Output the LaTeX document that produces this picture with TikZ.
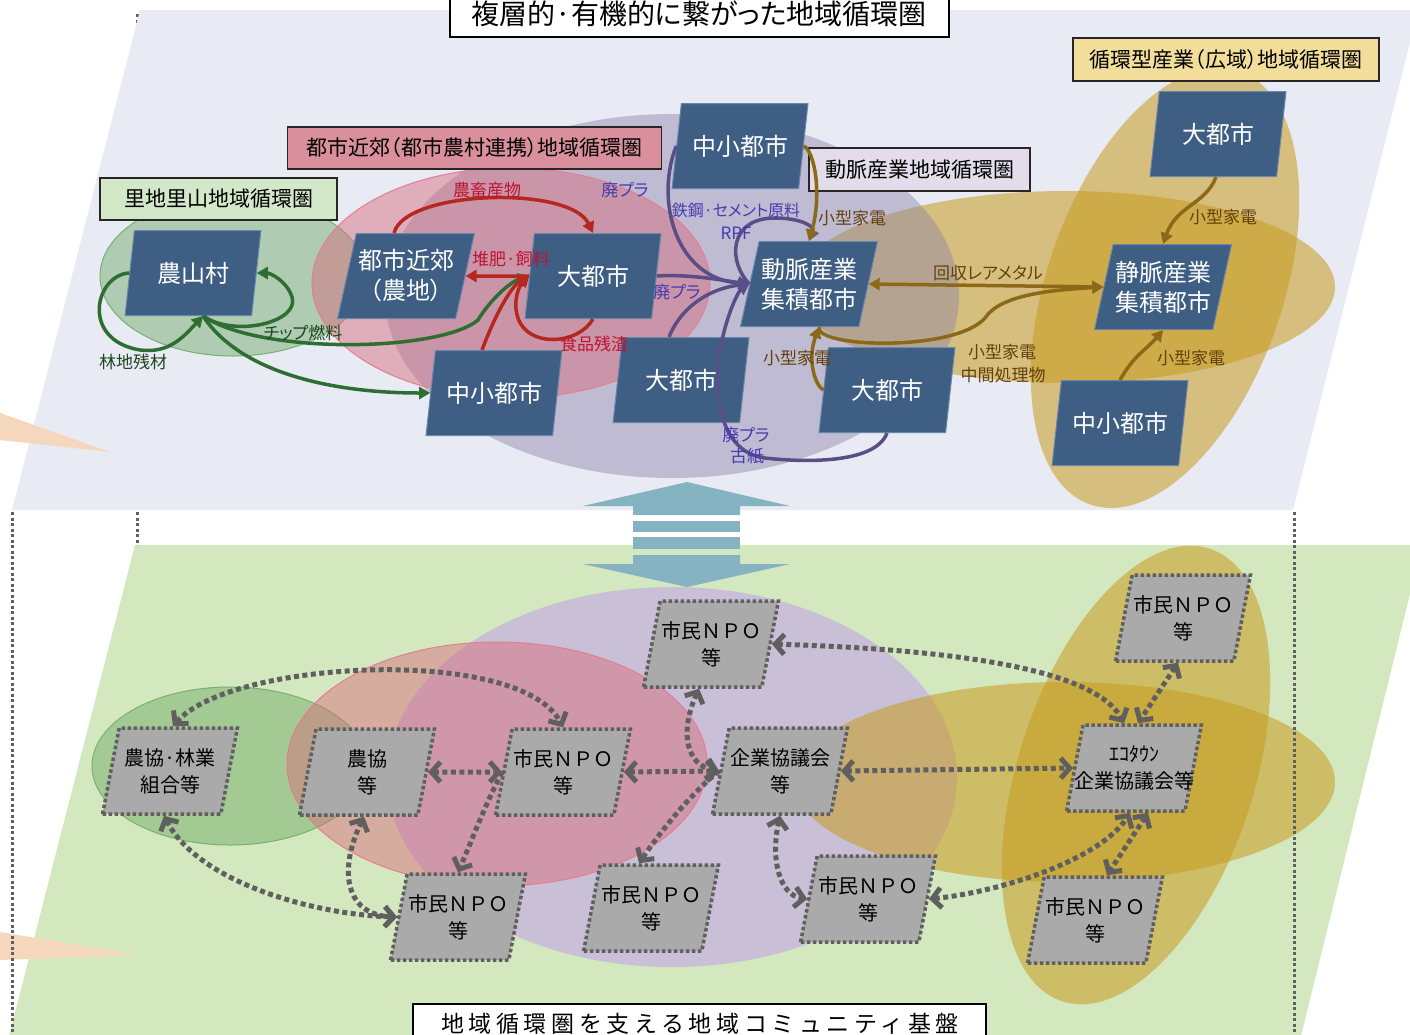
\documentclass[tikz,border=0pt]{standalone}
\usepackage{fontspec}
\newfontfamily\jp{Noto Sans CJK JP}[RawFeature=+palt]
\newfontfamily\jpf{Noto Sans CJK JP}
\newfontfamily\jpls{Noto Sans CJK JP}[LetterSpace=20]
\usetikzlibrary{shapes.geometric,arrows.meta}
\newcommand\ctrline[1]{\makebox[80pt]{#1}}
\definecolor{planeTop}{RGB}{232,235,243}
\definecolor{planeBot}{RGB}{211,232,190}
\definecolor{cityFill}{RGB}{62,94,132}
\definecolor{cityEdge}{RGB}{105,135,170}
\definecolor{grayFill}{RGB}{170,170,170}
\definecolor{dotGray}{RGB}{95,95,95}
\definecolor{eGreen}{RGB}{107,166,98}
\definecolor{eGreenEdge}{RGB}{120,175,115}
\definecolor{ePink}{RGB}{216,108,125}
\definecolor{ePinkEdge}{RGB}{228,125,145}
\definecolor{ePurple}{RGB}{143,130,170}
\definecolor{ePurpleB}{RGB}{201,191,215}
\definecolor{eGold}{RGB}{200,155,30}
\definecolor{aGreen}{RGB}{45,110,50}
\definecolor{aRed}{RGB}{180,40,30}
\definecolor{aPurple}{RGB}{90,78,135}
\definecolor{aBrown}{RGB}{140,105,25}
\definecolor{tGreen}{RGB}{30,70,30}
\definecolor{tRed}{RGB}{190,20,50}
\definecolor{tBlue}{RGB}{70,60,175}
\definecolor{tBrown}{RGB}{100,65,10}
\definecolor{peach}{RGB}{245,215,190}
\definecolor{arrTeal}{RGB}{134,179,193}
\definecolor{boxGold}{RGB}{242,221,155}
\definecolor{boxPink}{RGB}{217,143,156}
\definecolor{boxGreen}{RGB}{210,232,200}
\definecolor{boxLav}{RGB}{227,220,234}
\begin{document}
\begin{tikzpicture}[x=1pt,y=-1pt,
  city/.style={trapezium, trapezium left angle=74, trapezium right angle=106,
    trapezium stretches=true, minimum width=137pt, minimum height=85pt,
    inner sep=0pt, fill=cityFill, draw=cityEdge, line width=1pt, text=white,
    align=center, font=\jp\fontsize{24}{30}\selectfont},
  npo/.style={trapezium, trapezium left angle=74, trapezium right angle=106,
    trapezium stretches=true, minimum width=135pt, minimum height=86pt,
    inner sep=0pt, fill=grayFill, draw=dotGray, line width=3.5pt,
    dash pattern=on 3.5pt off 2.5pt, text=black,
    align=center, font=\jpf\fontsize{20}{27}\selectfont},
  lbox/.style={draw=black!85, line width=1.8pt, inner sep=0pt,
    font=\jp\fontsize{21}{24}\selectfont},
  lab/.style={inner sep=0pt, font=\jp\fontsize{17}{21}\selectfont},
  garr/.style={draw=aGreen, line width=3.5pt, -{Triangle[length=11pt,width=12pt]}},
  rarr/.style={draw=aRed, line width=3.5pt, -{Triangle[length=11pt,width=12pt]}},
  parr/.style={draw=aPurple, line width=3.5pt, -{Triangle[length=11pt,width=12pt]}},
  barr/.style={draw=aBrown, line width=3.5pt, -{Triangle[length=11pt,width=12pt]}},
  barrb/.style={draw=aBrown, line width=3.5pt, {Triangle[length=11pt,width=12pt]}-{Triangle[length=11pt,width=12pt]}},
  darr/.style={draw=dotGray, line width=5pt, dash pattern=on 5pt off 3.5pt,
    {Straight Barb[length=9pt,width=20pt]}-{Straight Barb[length=9pt,width=20pt]}},
  darre/.style={draw=dotGray, line width=5pt, dash pattern=on 5pt off 3.5pt,
    -{Straight Barb[length=9pt,width=20pt]}},
  vdot/.style={draw=dotGray, line width=3pt, dash pattern=on 3pt off 2.5pt}
]
\useasboundingbox (0,0) rectangle (1410,1034);

% planes
\draw[vdot] (137,14) -- (137,26);
\fill[planeTop] (140,10) -- (1418,10) -- (1293,510) -- (12,510) -- cycle;
\fill[planeBot] (135,545) -- (1422,545) -- (1300,1040) -- (8,1040) -- cycle;

% peach wedges
\fill[peach] (0,413) -- (110,452) -- (0,440) -- cycle;
\fill[peach] (0,932) -- (138,955) -- (0,960) -- cycle;

% top ellipses
\fill[eGold, fill opacity=0.55] (1065,287) ellipse [x radius=270pt, y radius=96pt];
\fill[eGold, fill opacity=0.55, rotate around={-19:(1165,288)}] (1165,288) ellipse [x radius=118pt, y radius=229pt];
\fill[ePurple, fill opacity=0.45] (672,296) ellipse [x radius=287pt, y radius=182pt];
\filldraw[fill=eGreen, draw=eGreenEdge, fill opacity=0.45, line width=1pt] (233,276) ellipse [x radius=133pt, y radius=80pt];
\filldraw[fill=ePink, draw=ePinkEdge, fill opacity=0.48, line width=1pt] (511,283) ellipse [x radius=199pt, y radius=115pt];

% bottom ellipses
\fill[ePurpleB] (672,777) ellipse [x radius=285pt, y radius=190pt];
\fill[eGold, fill opacity=0.55] (1065,782) ellipse [x radius=270pt, y radius=100pt];
\fill[eGold, fill opacity=0.55, rotate around={-18:(1136,775)}] (1136,775) ellipse [x radius=118pt, y radius=238pt];
\filldraw[fill=eGreen, draw=eGreenEdge, fill opacity=0.45, line width=1pt] (230,766) ellipse [x radius=138pt, y radius=79pt];
\filldraw[fill=ePink, draw=ePinkEdge, fill opacity=0.48, line width=1pt] (497,764) ellipse [x radius=210pt, y radius=122pt];

% dotted verticals
\draw[vdot] (12,512) -- (12,1034);
\draw[vdot] (137,512) -- (137,545);
\draw[vdot] (1294,512) -- (1294,1034);

% double arrow between layers
\fill[arrTeal] (583,506) -- (687,482) -- (790,506) -- (740,506) -- (740,515) -- (633,515) -- (633,506) -- cycle;
\fill[arrTeal] (633,521) rectangle (740,532);
\fill[arrTeal] (633,537) rectangle (740,549);
\fill[arrTeal] (633,555) -- (740,555) -- (740,564) -- (790,564) -- (687,587) -- (583,564) -- (633,564) -- cycle;

% titles and label boxes
\draw[fill=white, line width=2.5pt] (450,-10) rectangle (949,37);
\node[inner sep=0pt, font=\jp\fontsize{28}{32}\selectfont] (title) at (699,14) {複層的·有機的に繋がった地域循環圏};
\draw[fill=white, line width=2.5pt] (413,1004) rectangle (986,1060);
\node[inner sep=0pt, font=\jpls\fontsize{23}{28}\selectfont] (subtitle) at (700,1024) {地域循環圏を支える地域コミュニティ基盤};
\node[lbox, fill=boxGold, minimum width=306pt, minimum height=43pt] (bx1) at (1226,59.5) {循環型産業（広域）地域循環圏};
\node[lbox, fill=boxPink, minimum width=374pt, minimum height=42pt] (bx2) at (474.5,148) {都市近郊（都市農村連携）地域循環圏};
\node[lbox, fill=boxGreen, minimum width=237pt, minimum height=42pt] (bx3) at (218.5,199) {里地里山地域循環圏};
\node[lbox, fill=boxLav, minimum width=221pt, minimum height=43pt] (bx4) at (919.5,169.5) {動脈産業地域循環圏};

% top nodes
\node[city] (nsm) at (193,273) {\ctrline{農山村}};
\node[city] (kinko) at (406,276) {\ctrline{都市近郊}\\\ctrline{（農地）}};
\node[city] (dai1) at (593,276) {\ctrline{大都市}};
\node[city] (chu1) at (494,393) {\ctrline{中小都市}};
\node[city] (chu2) at (740,146) {\ctrline{中小都市}};
\node[city] (doum) at (809,284) {\ctrline{動脈産業}\\\ctrline{集積都市}};
\node[city] (dai2) at (681,380) {\ctrline{大都市}};
\node[city] (dai3) at (887,390) {\ctrline{大都市}};
\node[city] (dai4) at (1218,134) {\ctrline{大都市}};
\node[city] (joum) at (1163,287) {\ctrline{静脈産業}\\\ctrline{集積都市}};
\node[city] (chu3) at (1120,423) {\ctrline{中小都市}};

% bottom nodes
\node[npo] (b1) at (170,771) {\ctrline{農協·林業}\\\ctrline{組合等}};
\node[npo] (b2) at (367,772) {\ctrline{農協}\\\ctrline{等}};
\node[npo] (b3) at (563,772) {\ctrline{市民ＮＰＯ}\\\ctrline{等}};
\node[npo] (b4) at (711,644) {\ctrline{市民ＮＰＯ}\\\ctrline{等}};
\node[npo] (b5) at (780,771) {\ctrline{企業協議会}\\\ctrline{等}};
\node[npo] (b6) at (458,917) {\ctrline{市民ＮＰＯ}\\\ctrline{等}};
\node[npo] (b7) at (651,908) {\ctrline{市民ＮＰＯ}\\\ctrline{等}};
\node[npo] (b8) at (868,899) {\ctrline{市民ＮＰＯ}\\\ctrline{等}};
\node[npo] (b9) at (1183,618) {\ctrline{市民ＮＰＯ}\\\ctrline{等}};
\node[npo] (b10) at (1134,768) {\ctrline{ｴｺﾀｳﾝ}\\\ctrline{企業協議会等}};
\node[npo] (b11) at (1095,920) {\ctrline{市民ＮＰＯ}\\\ctrline{等}};

% green arrows
\draw[garr] (nsm.west) .. controls (95,275) and (80,340) .. (140,350) .. controls (170,354) and (185,335) .. ([xshift=10pt]nsm.south);
\draw[garr] ([xshift=10pt]nsm.south) .. controls (235,338) and (300,322) .. (292,297) .. controls (287,281) and (270,273) .. (nsm.east);
\draw[garr] ([xshift=10pt]nsm.south) .. controls (260,355) and (440,352) .. (478,320) .. controls (490,300) and (510,282) .. (dai1.west);
\draw[garr] ([xshift=10pt]nsm.south) .. controls (240,372) and (330,393) .. (chu1.west);

% red arrows
\draw[rarr] ([xshift=-12pt]kinko.north) .. controls (405,190) and (570,185) .. (dai1.north);
\draw[rarr] (dai1.west) -- (kinko.east);
\draw[rarr] ([xshift=-12pt]chu1.north) .. controls (497,310) and (512,286) .. (dai1.west);
\draw[rarr] (dai1.south) .. controls (578,345) and (528,348) .. (518,318) .. controls (512,300) and (520,285) .. (dai1.west);

% purple arrows
\draw[parr] (chu2.west) .. controls (655,200) and (675,278) .. (doum.west);
\draw[parr] (doum.west) .. controls (728,262) and (728,218) .. (775,218) .. controls (800,218) and (815,226) .. (doum.north);
\draw[parr] (dai1.east) .. controls (690,274) and (720,280) .. (doum.west);
\draw[parr] ([xshift=-12pt]dai2.north) .. controls (682,305) and (712,288) .. (doum.west);
\draw[parr] (dai3.south) .. controls (875,465) and (800,462) .. (765,458) .. controls (715,452) and (712,380) .. (722,340) .. controls (730,305) and (740,290) .. (doum.west);

% brown arrows
\draw[barr] (chu2.east) .. controls (815,152) and (822,195) .. (doum.north);
\draw[barr] ([xshift=-2pt]dai4.south) .. controls (1205,205) and (1177,205) .. (joum.north);
\draw[barrb] (doum.east) -- (joum.west);
\draw[barr] ([xshift=10pt]doum.south) .. controls (815,348) and (955,352) .. (985,318) .. controls (1000,295) and (1050,290) .. (joum.west);
\draw[barr] (dai3.west) .. controls (815,385) and (807,360) .. ([xshift=10pt]doum.south);
\draw[barr] (chu3.north) .. controls (1134,355) and (1146,350) .. (joum.south);

% top labels
\node[lab, text=tGreen] (l1) at (133,362) {林地残材};
\node[lab, text=tGreen] (l2) at (303,333) {チップ燃料};
\node[lab, text=tRed] (l3) at (487,190) {農畜産物};
\node[lab, text=tRed] (l4) at (511,259) {堆肥·飼料};
\node[lab, text=tRed] (l5) at (594,344) {食品残渣};
\node[lab, text=tBlue] (l6) at (625,190) {廃プラ};
\node[lab, text=tBlue, font=\jp\fontsize{16}{20}\selectfont] (l7) at (736,210) {鉄鋼·セメント原料};
\node[lab, text=tBlue] (l8) at (736,233) {RPF};
\node[lab, text=tBlue] (l9) at (677,292) {廃プラ};
\node[lab, text=tBlue] (l10) at (746,435) {廃プラ};
\node[lab, text=tBlue] (l11) at (747,456) {古紙};
\node[lab, text=tBrown] (l12) at (852,218) {小型家電};
\node[lab, text=tBrown] (l13) at (1223,217) {小型家電};
\node[lab, text=tBrown] (l14) at (988,273) {回収レアメタル};
\node[lab, text=tBrown] (l15) at (797,358) {小型家電};
\node[lab, text=tBrown] (l16) at (1002,352) {小型家電};
\node[lab, text=tBrown] (l17) at (1003,375) {中間処理物};
\node[lab, text=tBrown] (l18) at (1191,358) {小型家電};

% bottom arrows
\draw[darr] ([xshift=3pt]b1.north) .. controls (230,660) and (520,645) .. (b3.north);
\draw[darr] (b2.east) -- (b3.west);
\draw[darr] (b3.east) -- (b5.west);
\draw[darr] (b5.east) -- (b10.west);
\draw[darr] (b4.east) .. controls (900,648) and (1090,660) .. ([xshift=-10pt]b10.north);
\draw[darr] ([xshift=-5pt]b9.south) -- ([xshift=4pt]b10.north);
\draw[darr] ([xshift=-12pt]b4.south) .. controls (680,730) and (685,765) .. (b5.west);
\draw[darre] (b5.west) .. controls (695,790) and (665,825) .. ([xshift=-12pt]b7.north);
\draw[darre] (b3.west) .. controls (485,805) and (472,840) .. (b6.north);
\draw[darr] ([xshift=-3pt]b2.south) .. controls (338,870) and (345,915) .. (b6.west);
\draw[darr] ([xshift=-6pt]b1.south) .. controls (200,885) and (320,915) .. (b6.west);
\draw[darr] (b5.south) .. controls (770,860) and (780,895) .. (b8.west);
\draw[darr] (b8.east) .. controls (1000,892) and (1100,860) .. ([xshift=-4pt]b10.south);
\draw[darr] ([xshift=14pt]b10.south) -- ([xshift=12pt]b11.north);
\end{tikzpicture}
\end{document}
